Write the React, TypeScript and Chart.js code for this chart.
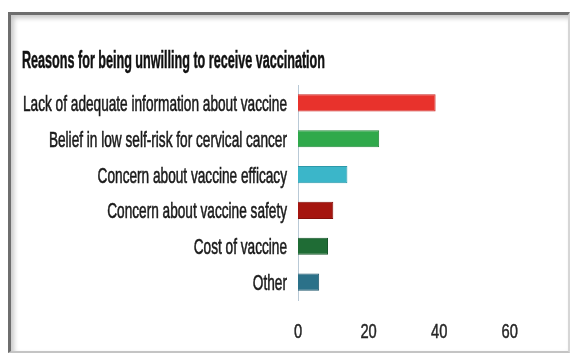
import React, { useEffect, useRef } from "react";
import { Chart, registerables } from "chart.js";

Chart.register(...registerables);

const titleText = "Reasons for being unwilling to receive vaccination";
const categories = [
  "Lack of adequate information about vaccine",
  "Belief in low self-risk for cervical cancer",
  "Concern about vaccine efficacy",
  "Concern about vaccine safety",
  "Cost of vaccine",
  "Other",
];
const values = [39, 23, 14, 10, 8.5, 6];
const barColors = ["#e8322c", "#2fa94b", "#3bb6c9", "#a5150f", "#1f6c35", "#2b7189"];
const barBorders = ["#c92420", "#23893b", "#2c98a9", "#85100b", "#17552a", "#205a6e"];
const xTicks = [0, 20, 40, 60];
const xMax = 70;

const FAMILY = '"Liberation Sans", Arial, sans-serif';

// Draws the condensed (narrow) typography of the original image.
const condensedText = {
  id: "condensedText",
  afterDraw(chart: any) {
    const ctx = chart.ctx as CanvasRenderingContext2D;
    const yScale = chart.scales.y;
    const xScale = chart.scales.x;
    const area = chart.chartArea;

    ctx.save();
    // Title
    ctx.font = `bold 23px ${FAMILY}`;
    ctx.fillStyle = "#111";
    ctx.strokeStyle = "#111";
    ctx.lineWidth = 0.5;
    ctx.textAlign = "left";
    ctx.textBaseline = "alphabetic";
    const tW = ctx.measureText(titleText).width;
    const tsx = 303 / tW;
    ctx.save();
    ctx.translate(22, 68);
    ctx.scale(tsx, 1);
    ctx.fillText(titleText, 0, 0);
    ctx.strokeText(titleText, 0, 0);
    ctx.restore();

    // Category labels
    ctx.font = `22px ${FAMILY}`;
    ctx.fillStyle = "#1a1a1a";
    ctx.strokeStyle = "#1a1a1a";
    ctx.lineWidth = 0.6;
    ctx.textAlign = "right";
    const labels: string[] = chart.data.labels;
    let maxW = 0;
    labels.forEach((l) => {
      maxW = Math.max(maxW, ctx.measureText(l).width);
    });
    const lsx = 264 / maxW;
    labels.forEach((l, i) => {
      const y = yScale.getPixelForValue(i);
      ctx.save();
      ctx.translate(area.left - 11, y + 8);
      ctx.scale(lsx, 1);
      ctx.fillText(l, 0, 0);
      ctx.strokeText(l, 0, 0);
      ctx.restore();
    });

    // X tick labels
    ctx.font = `21px ${FAMILY}`;
    ctx.fillStyle = "#262626";
    ctx.strokeStyle = "#262626";
    ctx.lineWidth = 0.5;
    ctx.textAlign = "center";
    xTicks.forEach((v) => {
      const x = xScale.getPixelForValue(v);
      ctx.save();
      ctx.translate(x, 338);
      ctx.scale(0.7, 1);
      ctx.fillText(String(v), 0, 0);
      ctx.strokeText(String(v), 0, 0);
      ctx.restore();
    });
    ctx.restore();
  },
};

export default function App() {
  const ref = useRef<HTMLCanvasElement | null>(null);
  useEffect(() => {
    if (!ref.current) return;
    const chart = new Chart(ref.current, {
      type: "bar",
      data: {
        labels: categories,
        datasets: [
          {
            data: values,
            backgroundColor: barColors,
            borderColor: barBorders,
            borderWidth: 1,
            barPercentage: 0.8,
            categoryPercentage: 0.6,
          },
        ],
      },
      options: {
        indexAxis: "y",
        responsive: false,
        animation: false,
        layout: { padding: { left: 0, right: 26, top: 85, bottom: 0 } },
        plugins: {
          legend: { display: false },
          tooltip: { enabled: false },
          title: { display: false },
        },
        scales: {
          x: {
            min: 0,
            max: xMax,
            grid: { display: false },
            border: { display: false },
            afterFit: (s: any) => {
              s.height = 56;
            },
            afterBuildTicks: (s: any) => {
              s.ticks = xTicks.map((v) => ({ value: v }));
            },
            ticks: { display: false },
          },
          y: {
            grid: { display: false },
            border: { display: true, color: "#b9c9d6", width: 1 },
            afterFit: (s: any) => {
              s.width = 298;
            },
            ticks: { display: false },
          },
        },
      },
      plugins: [condensedText],
    });
    return () => chart.destroy();
  }, []);
  return (
    <div>
      <div
        style={{
          position: "fixed",
          left: 8,
          top: 12,
          width: 562,
          height: 341,
          boxSizing: "border-box",
          borderTop: "3px solid #6e6e6e",
          borderLeft: "3px solid #6e6e6e",
          borderRight: "2px solid #d6d6d6",
          borderBottom: "2px solid #c4c4c4",
          boxShadow: "inset 3px 3px 5px rgba(0,0,0,0.22)",
          background: "#fff",
        }}
      />
      <canvas
        ref={ref}
        width={571}
        height={356}
        style={{ position: "fixed", left: 0, top: 0, width: 571, height: 356 }}
      />
    </div>
  );
}
